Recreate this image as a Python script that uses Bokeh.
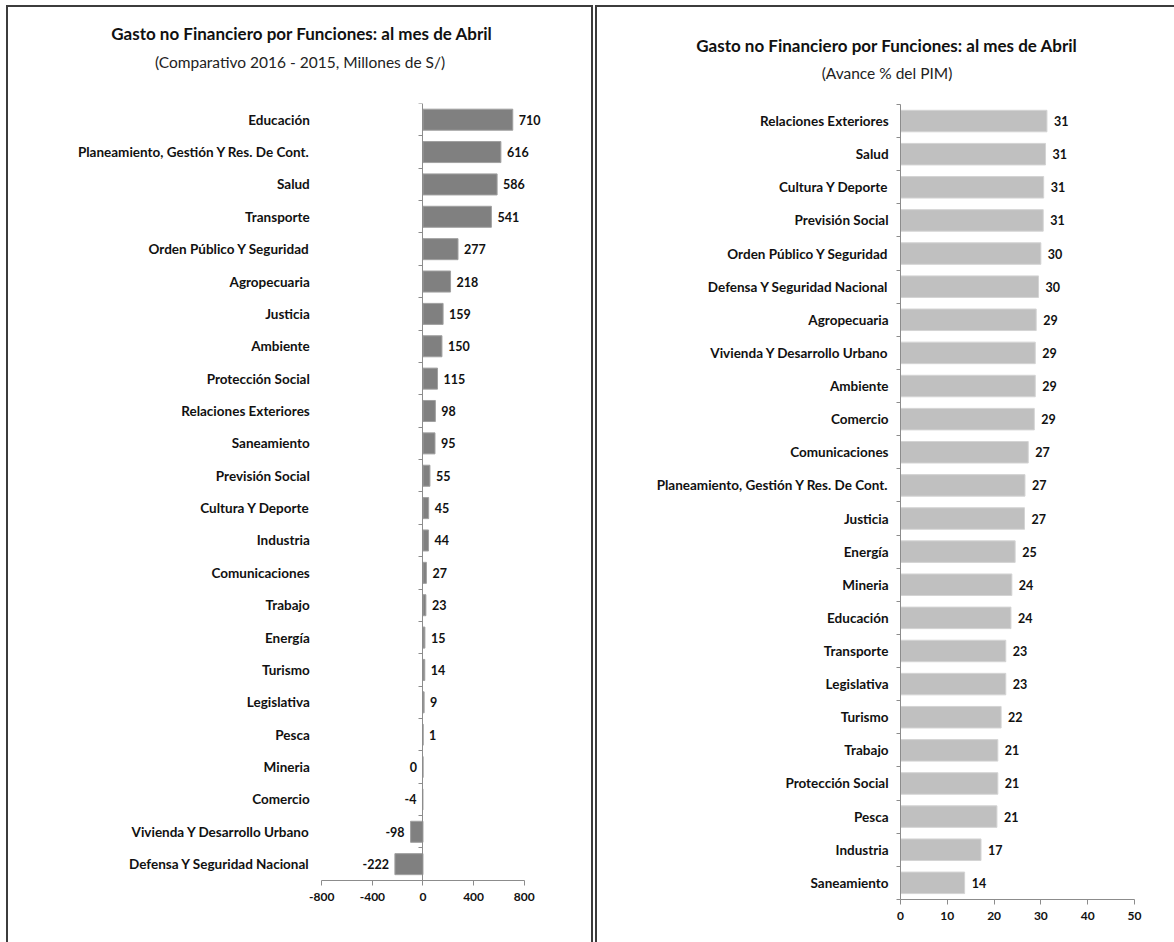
from bokeh.plotting import figure
from bokeh.models import ColumnDataSource, Range1d, LinearAxis, FixedTicker, Title
from bokeh.layouts import row
from bokeh.embed import file_html
from bokeh.resources import INLINE
from bokeh.core.properties import value

FONT = "Lato"
H = 937

# ---------------- data ----------------
left_title = "Gasto no Financiero por Funciones: al mes de Abril"
left_subtitle = "(Comparativo  2016 - 2015, Millones de S/)"
left_categories = [
    "Educación", "Planeamiento, Gestión Y Res. De Cont.", "Salud", "Transporte",
    "Orden Público Y Seguridad", "Agropecuaria", "Justicia", "Ambiente",
    "Protección Social", "Relaciones Exteriores", "Saneamiento", "Previsión Social",
    "Cultura Y Deporte", "Industria", "Comunicaciones", "Trabajo", "Energía",
    "Turismo", "Legislativa", "Pesca", "Mineria", "Comercio",
    "Vivienda Y Desarrollo Urbano", "Defensa Y Seguridad Nacional",
]
left_values = [710, 616, 586, 541, 277, 218, 159, 150, 115, 98, 95, 55, 45, 44,
               27, 23, 15, 14, 9, 1, 0, -4, -98, -222]
left_labels = [str(v) for v in left_values]
left_ticks = [-800, -400, 0, 400, 800]
left_tick_labels = ["-800", "-400", "0", "400", "800"]

right_title = "Gasto no Financiero por Funciones: al mes de Abril"
right_subtitle = "(Avance % del PIM)"
right_categories = [
    "Relaciones Exteriores", "Salud", "Cultura Y Deporte", "Previsión Social",
    "Orden Público Y Seguridad", "Defensa Y Seguridad Nacional", "Agropecuaria",
    "Vivienda Y Desarrollo Urbano", "Ambiente", "Comercio", "Comunicaciones",
    "Planeamiento, Gestión Y Res. De Cont.", "Justicia", "Energía", "Mineria",
    "Educación", "Transporte", "Legislativa", "Turismo", "Trabajo",
    "Protección Social", "Pesca", "Industria", "Saneamiento",
]
right_values = [31.3, 31.0, 30.6, 30.5, 30.0, 29.5, 29.0, 28.8, 28.8, 28.6, 27.3,
                26.6, 26.5, 24.5, 23.8, 23.6, 22.5, 22.5, 21.5, 20.8, 20.8, 20.6,
                17.2, 13.7]
right_labels = ["31", "31", "31", "31", "30", "30", "29", "29", "29", "29", "27",
                "27", "27", "25", "24", "24", "23", "23", "22", "21", "21", "21",
                "17", "14"]
right_ticks = [0, 10, 20, 30, 40, 50]
right_tick_labels = ["0", "10", "20", "30", "40", "50"]

AXIS_GRAY = "#8c8c8c"
TEXT = "#111111"
BORDER = "2px solid #3c3c3c"


def make_panel(cats, vals, labels, x_range, y_range, ticks, tick_labels, title,
               subtitle, width, bar_fill, bar_line, lab_off, css, gaps):
    n = len(cats)
    spacer_h, sub_standoff, title_standoff = gaps
    # slot centre of each category, first category on top
    slot = [n - i - 0.5 for i in range(n)]
    p = figure(width=width, height=H, title=None,
               y_range=Range1d(*y_range), x_range=Range1d(*x_range),
               output_backend="svg", toolbar_location=None,
               min_border_left=0, min_border_right=0,
               min_border_top=96, min_border_bottom=0,
               background_fill_color="white", border_fill_color="white")
    p.styles = css
    p.xgrid.visible = False
    p.ygrid.visible = False
    p.outline_line_color = None

    src = ColumnDataSource(dict(y=slot, val=vals))
    p.hbar(y="y", left=0, right="val", height=0.65, fill_color=bar_fill,
           line_color=bar_line, line_width=1, source=src)

    pos = ColumnDataSource(dict(
        y=[s for s, v in zip(slot, vals) if v > 0],
        val=[v for v in vals if v > 0],
        lab=[l for l, v in zip(labels, vals) if v > 0]))
    neg = ColumnDataSource(dict(
        y=[s for s, v in zip(slot, vals) if v <= 0],
        val=[v for v in vals if v <= 0],
        lab=[l for l, v in zip(labels, vals) if v <= 0]))
    common = dict(text="lab", y="y", x="val", text_font=value(FONT),
                  text_font_style="bold", text_font_size="12.5px",
                  text_baseline="middle", text_color=TEXT)
    p.text(source=pos, text_align="left", x_offset=lab_off, **common)
    if len(neg.data["y"]):
        p.text(source=neg, text_align="right", x_offset=-6, **common)

    # category labels, placed at the left edge of the value scale
    ya = p.yaxis[0]
    ya.fixed_location = ticks[0]
    ya.ticker = FixedTicker(ticks=slot)
    ya.major_label_overrides = {s: c for s, c in zip(slot, cats)}
    ya.axis_line_color = None
    ya.major_tick_line_color = None
    ya.major_tick_out = 0
    ya.major_tick_in = 0
    ya.minor_tick_line_color = None
    ya.major_label_standoff = 12
    ya.major_label_text_font = FONT
    ya.major_label_text_font_style = "bold"
    ya.major_label_text_font_size = "13.5px"
    ya.major_label_text_color = TEXT

    # vertical axis line at zero with ticks on the category boundaries
    slot_axis = LinearAxis(fixed_location=0, bounds=(0, n),
                           ticker=FixedTicker(ticks=list(range(n + 1))),
                           major_label_text_color=None,
                           major_label_text_font_size="1px",
                           axis_line_color=AXIS_GRAY, major_tick_line_color=AXIS_GRAY,
                           major_tick_out=4, major_tick_in=0,
                           minor_tick_line_color=None)
    p.add_layout(slot_axis, "left")

    # value axis drawn under the last category
    xa = p.xaxis[0]
    xa.fixed_location = 0
    xa.ticker = FixedTicker(ticks=ticks)
    xa.major_label_overrides = {t: s for t, s in zip(ticks, tick_labels)}
    xa.bounds = (ticks[0], ticks[-1])
    xa.axis_line_color = AXIS_GRAY
    xa.major_tick_line_color = AXIS_GRAY
    xa.major_tick_out = 5
    xa.major_tick_in = 0
    xa.minor_tick_line_color = None
    xa.major_label_standoff = 8
    xa.major_label_text_font = FONT
    xa.major_label_text_font_style = "bold"
    xa.major_label_text_font_size = "12px"
    xa.major_label_text_color = TEXT

    # empty spacer between the plot area and the titles
    spacer = LinearAxis(ticker=FixedTicker(ticks=[0]), major_tick_out=spacer_h,
                        major_tick_in=0, major_tick_line_color=None,
                        axis_line_color=None, minor_tick_line_color=None,
                        major_label_text_color=None,
                        major_label_text_font_size="1px",
                        major_label_standoff=0)
    p.add_layout(spacer, "above")
    p.add_layout(Title(text=subtitle, align="center", text_font=FONT,
                       text_font_style="normal", text_font_size="15.5px",
                       text_color="#222222", standoff=sub_standoff), "above")
    p.add_layout(Title(text=title, align="center", text_font=FONT,
                       text_font_style="bold", text_font_size="17px",
                       text_color=TEXT, standoff=title_standoff), "above")
    return p


left_css = {"border-left": BORDER, "border-top": BORDER, "border-right": BORDER,
            "box-sizing": "border-box"}
right_css = {"border-left": BORDER, "border-top": BORDER, "box-sizing": "border-box"}

p1 = make_panel(left_categories, left_values, left_labels, (-3277, 1364),
                (-1.982, 24), left_ticks, left_tick_labels, left_title,
                left_subtitle, 587, "#808080", "#a0a0a0", 6, left_css, (30, 6, 8))
p2 = make_panel(right_categories, right_values, right_labels, (-64.8, 59.0),
                (-1.362, 24.03), right_ticks, right_tick_labels, right_title,
                right_subtitle, 579, "#c0c0c0", "#d4d4d4", 7, right_css, (19, 6, 6))

layout = row(p1, p2, spacing=2)
layout.margin = (5, 0, 0, 6)
open("out.html", "w").write(file_html(layout, INLINE))
